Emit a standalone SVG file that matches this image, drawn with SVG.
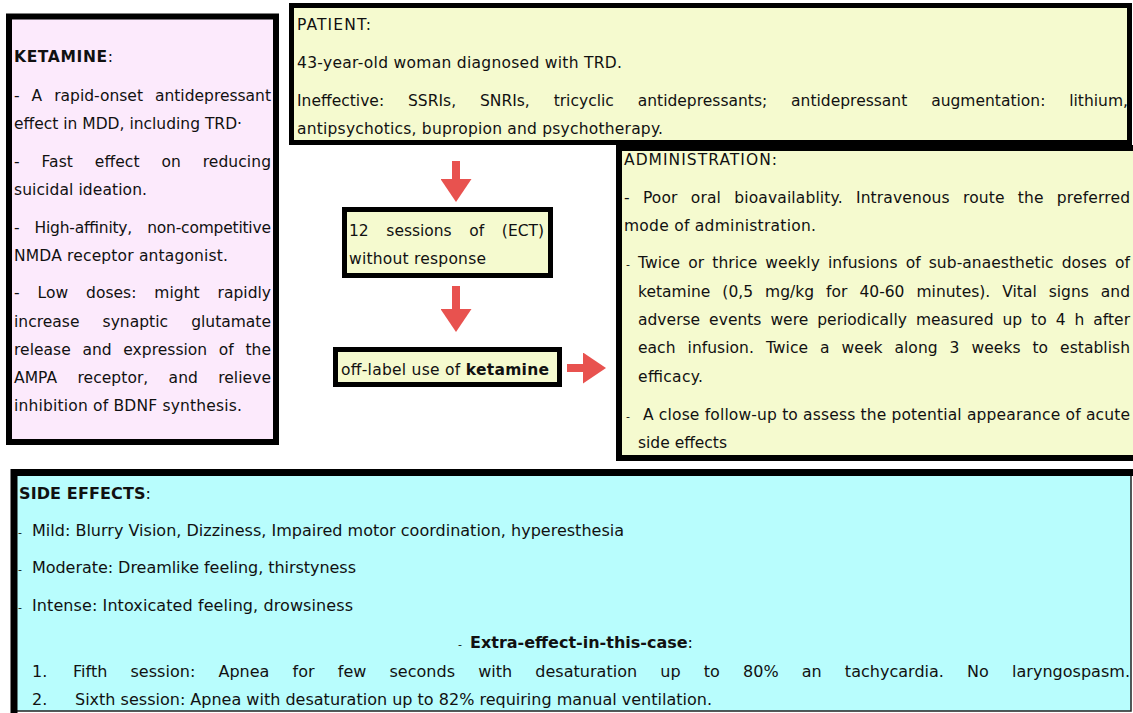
<svg xmlns="http://www.w3.org/2000/svg" width="1133" height="713" viewBox="0 0 1133 713">
<defs>
<style>
.t{font-family:"DejaVu Sans",Verdana,sans-serif;font-size:15.5px;fill:#111}
.s16{font-size:16px}
.b{font-weight:bold}
.dash{font-size:11px}
.box{stroke:#000;stroke-width:6}
.pink{fill:#FCEAFC}
.yel{fill:#F5FACF}
.cyan{fill:#B8FDFD}
.conn{stroke:#E8524F;stroke-width:8;fill:none}
</style>
<marker id="head" markerUnits="userSpaceOnUse" markerWidth="23" markerHeight="31" viewBox="0 0 23 31" refX="1" refY="15.5" orient="auto">
<path d="M0,0 L23,15.5 L0,31 Z" fill="#E8524F"/>
</marker>
</defs>
<rect width="1133" height="713" fill="#fff"/>

<g id="ketamine-info">
<rect class="box pink" x="9" y="16.5" width="267" height="425.5"/>
<text class="t" x="14" y="62" textLength="99" lengthAdjust="spacing"><tspan class="b">KETAMINE</tspan>:</text>
<text class="t" x="14" y="101" textLength="257" lengthAdjust="spacing" style="word-spacing:7.1px">- A rapid-onset antidepressant</text>
<text class="t" x="14" y="129" textLength="228" lengthAdjust="spacing">effect in MDD, including TRD·</text>
<text class="t" x="14" y="167" textLength="257" lengthAdjust="spacing" style="word-spacing:16.8px">- Fast effect on reducing</text>
<text class="t" x="14" y="195" textLength="133" lengthAdjust="spacing">suicidal ideation.</text>
<text class="t" x="14" y="233" textLength="257" lengthAdjust="spacing" style="word-spacing:10.4px">- High-affinity, non-competitive</text>
<text class="t" x="14" y="261" textLength="214" lengthAdjust="spacing">NMDA receptor antagonist.</text>
<text class="t" x="14" y="298" textLength="257" lengthAdjust="spacing" style="word-spacing:13px">- Low doses: might rapidly</text>
<text class="t" x="14" y="327" textLength="257" lengthAdjust="spacing" style="word-spacing:18.2px">increase synaptic glutamate</text>
<text class="t" x="14" y="355" textLength="257" lengthAdjust="spacing" style="word-spacing:6.7px">release and expression of the</text>
<text class="t" x="14" y="383" textLength="257" lengthAdjust="spacing" style="word-spacing:15.2px">AMPA receptor, and relieve</text>
<text class="t" x="14" y="411" textLength="228" lengthAdjust="spacing">inhibition of BDNF synthesis.</text>
</g>

<g id="patient">
<rect class="box yel" x="291.5" y="5.5" width="838" height="137" style="stroke-width:5"/>
<text class="t" x="297" y="30" textLength="74" lengthAdjust="spacing">PATIENT:</text>
<text class="t" x="297" y="68" textLength="325" lengthAdjust="spacing">43-year-old woman diagnosed with TRD.</text>
<text class="t" x="297" y="106" textLength="831" lengthAdjust="spacing" style="word-spacing:18.9px">Ineffective: SSRIs, SNRIs, tricyclic antidepressants; antidepressant augmentation: lithium,</text>
<text class="t" x="297" y="134" textLength="366" lengthAdjust="spacing">antipsychotics, bupropion and psychotherapy.</text>
</g>

<g id="ect">
<rect class="box yel" x="344.5" y="209.5" width="206" height="66" style="stroke-width:5"/>
<text class="t" x="349" y="236" textLength="195" lengthAdjust="spacing" style="word-spacing:12.7px">12 sessions of (ECT)</text>
<text class="t" x="349" y="264" textLength="137" lengthAdjust="spacing">without response</text>
</g>

<g id="offlabel">
<rect class="box yel" x="335.5" y="349.5" width="224" height="35" style="stroke-width:5"/>
<text class="t" x="341" y="375" textLength="208" lengthAdjust="spacing">off-label use of <tspan class="b">ketamine</tspan></text>
</g>

<g id="administration">
<rect class="box yel" x="619" y="148" width="520" height="310"/>
<text class="t" x="624" y="165" textLength="153" lengthAdjust="spacing">ADMINISTRATION:</text>
<text class="t" x="624" y="203" textLength="506" lengthAdjust="spacing" style="word-spacing:8.1px">- Poor oral bioavailablity. Intravenous route the preferred</text>
<text class="t" x="624" y="231" textLength="192" lengthAdjust="spacing">mode of administration.</text>
<text class="t dash" x="626" y="268">-</text>
<text class="t" x="638" y="268" textLength="492" lengthAdjust="spacing" style="word-spacing:3.1px">Twice or thrice weekly infusions of sub-anaesthetic doses of</text>
<text class="t" x="638" y="297" textLength="492" lengthAdjust="spacing" style="word-spacing:7px">ketamine (0,5 mg/kg for 40-60 minutes). Vital signs and</text>
<text class="t" x="638" y="325" textLength="492" lengthAdjust="spacing" style="word-spacing:4px">adverse events were periodically measured up to 4 h after</text>
<text class="t" x="638" y="353" textLength="492" lengthAdjust="spacing" style="word-spacing:7px">each infusion. Twice a week along 3 weeks to establish</text>
<text class="t" x="638" y="382" textLength="65" lengthAdjust="spacing">efficacy.</text>
<text class="t dash" x="626" y="420">-</text>
<text class="t" x="643" y="420" textLength="487" lengthAdjust="spacing">A close follow-up to assess the potential appearance of acute</text>
<text class="t" x="638" y="448" textLength="89" lengthAdjust="spacing">side effects</text>
</g>

<g id="side-effects">
<rect class="cyan" x="14" y="472" width="1117" height="239" stroke="#222" stroke-width="1.5"/>
<path d="M14,713 V472.5 H1133" fill="none" stroke="#000" stroke-width="7"/>
<text class="t s16" x="19" y="499" textLength="132" lengthAdjust="spacing"><tspan class="b">SIDE EFFECTS</tspan>:</text>
<text class="t dash" x="18" y="536">-</text>
<text class="t s16" x="32" y="536" textLength="592" lengthAdjust="spacing">Mild: Blurry Vision, Dizziness, Impaired motor coordination, hyperesthesia</text>
<text class="t dash" x="18" y="573">-</text>
<text class="t s16" x="32" y="573" textLength="324" lengthAdjust="spacing">Moderate: Dreamlike feeling, thirstyness</text>
<text class="t dash" x="18" y="611">-</text>
<text class="t s16" x="32" y="611" textLength="321" lengthAdjust="spacing">Intense: Intoxicated feeling, drowsiness</text>
<text class="t dash" x="458" y="648">-</text>
<text class="t s16" x="470" y="648" textLength="223" lengthAdjust="spacing"><tspan class="b">Extra-effect-in-this-case</tspan>:</text>
<text class="t s16" x="32" y="677">1.</text>
<text class="t s16" x="73" y="677" textLength="1057" lengthAdjust="spacing" style="word-spacing:18px">Fifth session: Apnea for few seconds with desaturation up to 80% an tachycardia. No laryngospasm.</text>
<text class="t s16" x="32" y="705">2.</text>
<text class="t s16" x="75" y="705" textLength="637" lengthAdjust="spacing">Sixth session: Apnea with desaturation up to 82% requiring manual ventilation.</text>
</g>

<g id="connectors">
<line class="conn" x1="456" y1="161" x2="456" y2="180" marker-end="url(#head)"/>
<line class="conn" x1="456" y1="286" x2="456" y2="310" marker-end="url(#head)"/>
<line class="conn" x1="567" y1="368" x2="584" y2="368" marker-end="url(#head)"/>
</g>
</svg>
